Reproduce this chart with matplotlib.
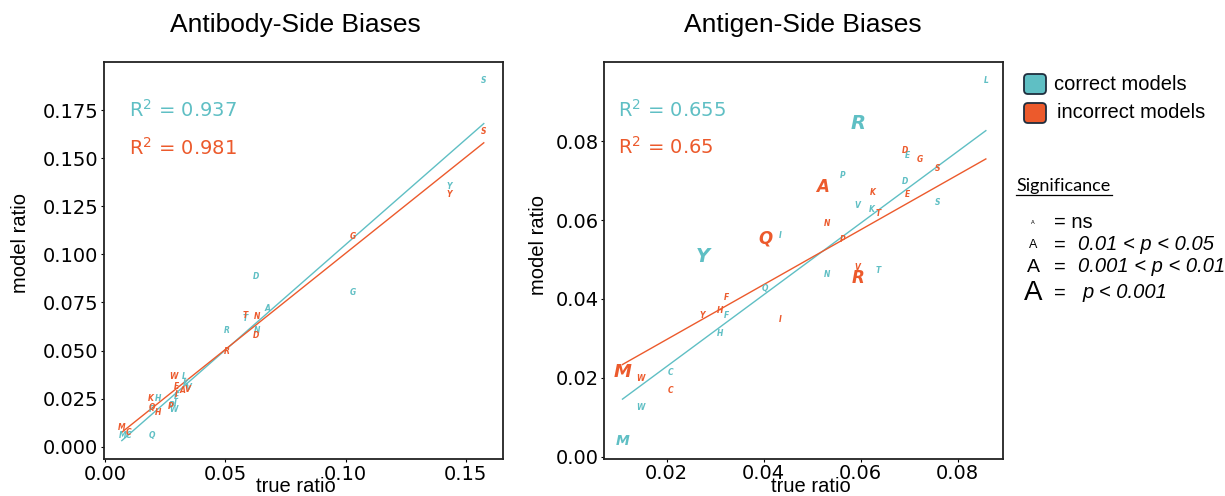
import numpy as np
import matplotlib
matplotlib.use("Agg")
import matplotlib.pyplot as plt
from matplotlib.patches import FancyBboxPatch

TEAL = "#5fbfc4"
ORANGE = "#ec5a2c"
ARIAL = "Liberation Sans"

# antibody side, correct models
ab_cor_aa = ["A", "C", "D", "E", "F", "G", "H", "I", "K", "L",
             "M", "N", "P", "Q", "R", "S", "T", "V", "W", "Y"]
ab_cor_true = [0.0675, 0.0096, 0.0627, 0.0296, 0.0193, 0.1030, 0.0220, 0.0290, 0.0335, 0.0328,
               0.0072, 0.0633, 0.0275, 0.0195, 0.0504, 0.1575, 0.0584, 0.0345, 0.0285, 0.1432]
ab_cor_model = [0.0716, 0.0057, 0.0884, 0.0262, 0.0194, 0.0801, 0.0250, 0.0225, 0.0330, 0.0364,
                0.0057, 0.0606, 0.0215, 0.0057, 0.0606, 0.1904, 0.0664, 0.0307, 0.0193, 0.1355]
ab_cor_size = [5.5] * 20

# antibody side, incorrect models
ab_inc_aa = ["A", "C", "D", "E", "G", "H", "I", "K", "M", "N",
             "P", "Q", "R", "S", "T", "V", "W", "Y"]
ab_inc_true = [0.0320, 0.0096, 0.0627, 0.0296, 0.1030, 0.0220, 0.0296, 0.0188, 0.0069, 0.0633,
               0.0271, 0.0193, 0.0504, 0.1575, 0.0584, 0.0340, 0.0283, 0.1432]
ab_inc_model = [0.0291, 0.0075, 0.0577, 0.0312, 0.1092, 0.0178, 0.0269, 0.0251, 0.0099, 0.0676,
                0.0208, 0.0204, 0.0494, 0.1637, 0.0684, 0.0295, 0.0367, 0.1312]
ab_inc_size = [5.5] * 18

# antigen side, correct models
ag_cor_aa = ["C", "D", "E", "F", "H", "I", "K", "L", "M", "N",
             "P", "Q", "R", "S", "T", "V", "W", "Y"]
ag_cor_true = [0.0207, 0.0691, 0.0697, 0.0324, 0.0311, 0.0434, 0.0623, 0.0858, 0.0109, 0.0531,
               0.0562, 0.0403, 0.0594, 0.0759, 0.0636, 0.0593, 0.0145, 0.0274]
ag_cor_model = [0.0214, 0.0698, 0.0765, 0.0359, 0.0313, 0.0561, 0.0628, 0.0953, 0.0040, 0.0463,
                0.0713, 0.0427, 0.0846, 0.0645, 0.0472, 0.0637, 0.0125, 0.0507]
ag_cor_size = [5.5, 5.5, 5.5, 5.5, 5.5, 5.5, 5.5, 5.5, 10, 5.5,
               5.5, 5.5, 14, 5.5, 5.5, 5.5, 5.5, 14]

# antigen side, incorrect models
ag_inc_aa = ["A", "C", "D", "E", "F", "G", "H", "I", "K", "M",
             "N", "P", "Q", "R", "S", "T", "V", "W", "Y"]
ag_inc_true = [0.0521, 0.0207, 0.0691, 0.0697, 0.0324, 0.0722, 0.0311, 0.0434, 0.0624, 0.0109,
               0.0531, 0.0562, 0.0403, 0.0594, 0.0759, 0.0636, 0.0593, 0.0145, 0.0274]
ag_inc_model = [0.0683, 0.0169, 0.0776, 0.0666, 0.0404, 0.0754, 0.0372, 0.0348, 0.0671, 0.0216,
                0.0592, 0.0550, 0.0554, 0.0454, 0.0730, 0.0616, 0.0479, 0.0199, 0.0359]
ag_inc_size = [12, 5.5, 5.5, 5.5, 5.5, 5.5, 5.5, 5.5, 5.5, 13,
               5.5, 5.5, 12, 12, 5.5, 5.5, 5.5, 5.5, 5.5]

# fitted lines (slope, intercept) and R^2 as printed
ab_fit = {"cor": (1.0945, -0.0044), "inc": (0.9993, 0.0006)}
ag_fit = {"cor": (0.909, 0.0047), "inc": (0.696, 0.0158)}
ab_r2 = ["0.937", "0.981"]
ag_r2 = ["0.655", "0.65"]

sig_labels = ["= ns", "0.01 < p < 0.05", "0.001 < p < 0.01", "p < 0.001"]
sig_sizes = [4, 9, 14, 20]


def draw_letters(ax, aa, xs, ys, sizes, color):
    for a, x, y, s in zip(aa, xs, ys, sizes):
        ax.text(x, y, a, color=color, fontsize=s, fontweight="bold", style="italic",
                ha="center", va="center")


def draw_panel(ax, cor, inc, fit, r2, r2x, xlim, ylim, xticks, yticks, xfmt, yfmt):
    draw_letters(ax, *cor, TEAL)
    draw_letters(ax, *inc, ORANGE)
    xs = np.array(cor[1] + inc[1])
    xr = np.array([xs.min(), xs.max()])
    for key, col in [("cor", TEAL), ("inc", ORANGE)]:
        m, b = fit[key]
        ax.plot(xr, m * xr + b, color=col, lw=1.0)
    ax.text(r2x, 0.879, "R$^2$ = " + r2[0], color=TEAL,
            fontsize=14, transform=ax.transAxes, va="center")
    ax.text(r2x, 0.785, "R$^2$ = " + r2[1], color=ORANGE,
            fontsize=14, transform=ax.transAxes, va="center")
    ax.set_xlim(xlim)
    ax.set_ylim(ylim)
    ax.set_xticks(xticks)
    ax.set_yticks(yticks)
    ax.set_xticklabels([xfmt.format(t) for t in xticks])
    ax.set_yticklabels([yfmt.format(t) for t in yticks])
    ax.tick_params(labelsize=14, length=2.5, pad=1.5, width=0.8)
    for sp in ax.spines.values():
        sp.set_linewidth(1.3)
        sp.set_color("#222222")


fig = plt.figure(figsize=(12.25, 4.96), dpi=100)
W, H = 1225, 496

ax1 = fig.add_axes([104 / W, 1 - 459 / H, 399 / W, 397 / H])
draw_panel(ax1, (ab_cor_aa, ab_cor_true, ab_cor_model, ab_cor_size),
           (ab_inc_aa, ab_inc_true, ab_inc_model, ab_inc_size),
           ab_fit, ab_r2, 0.063, (-0.0005, 0.1655), (-0.0064, 0.2),
           [0.0, 0.05, 0.10, 0.15], np.arange(0, 0.176, 0.025), "{:.2f}", "{:.3f}")

ax2 = fig.add_axes([604.3 / W, 1 - 458.7 / H, 399 / W, 396.7 / H])
draw_panel(ax2, (ag_cor_aa, ag_cor_true, ag_cor_model, ag_cor_size),
           (ag_inc_aa, ag_inc_true, ag_inc_model, ag_inc_size),
           ag_fit, ag_r2, 0.035, (0.00715, 0.0894), (-0.0005, 0.1001),
           [0.02, 0.04, 0.06, 0.08], [0.0, 0.02, 0.04, 0.06, 0.08], "{:.2f}", "{:.2f}")

# titles and axis labels
fig.text(295 / W, 1 - 25 / H, "Antibody-Side Biases", family=ARIAL, fontsize=19,
         ha="center", va="center")
fig.text(803 / W, 1 - 25 / H, "Antigen-Side Biases", family=ARIAL, fontsize=19,
         ha="center", va="center")
for xc, yc in [(21, 243), (539, 245)]:
    fig.text(xc / W, 1 - yc / H, "model ratio", family=ARIAL, fontsize=14.5,
             rotation=90, ha="center", va="center")
for xc in [296, 811]:
    fig.text(xc / W, 1 - 487 / H, "true ratio", family=ARIAL, fontsize=14.5,
             ha="center", va="center")

# legend panel in pixel coordinates
lax = fig.add_axes([1010 / W, 0, 215 / W, 1])
lax.set_xlim(1010, 1225)
lax.set_ylim(H, 0)
lax.axis("off")
for (y0, col, lbl, tx) in [(73, TEAL, "correct models", 1054), (102, ORANGE, "incorrect models", 1057)]:
    lax.add_patch(FancyBboxPatch((1024, y0 + 1), 22, 20, boxstyle="round,pad=0,rounding_size=4",
                                 fc=col, ec="#1f2d3d", lw=1.3))
    lax.text(tx, y0 + 11, lbl, family=ARIAL, fontsize=14.5, va="center", ha="left")

lax.text(1016, 186, "Significance", family="Lato", fontsize=13, va="center", ha="left")
lax.plot([1016, 1112], [195, 195], color="black", lw=0.9)

row_y = [223, 245, 267, 293]
for i, (lbl, s, yy) in enumerate(zip(sig_labels, sig_sizes, row_y)):
    lax.text(1033, yy, "A", family=ARIAL, fontsize=s, ha="center", va="center")
    if i == 0:
        lax.text(1054, yy, lbl, family=ARIAL, fontsize=14.5, ha="left", va="center")
    else:
        lax.text(1060, yy, "=", family=ARIAL, fontsize=14.5, ha="center", va="center")
        lax.text(1078 if i < 3 else 1083, yy, lbl, family=ARIAL, style="italic",
                 fontsize=14.5, ha="left", va="center")

fig.savefig("out.png", dpi=100)
